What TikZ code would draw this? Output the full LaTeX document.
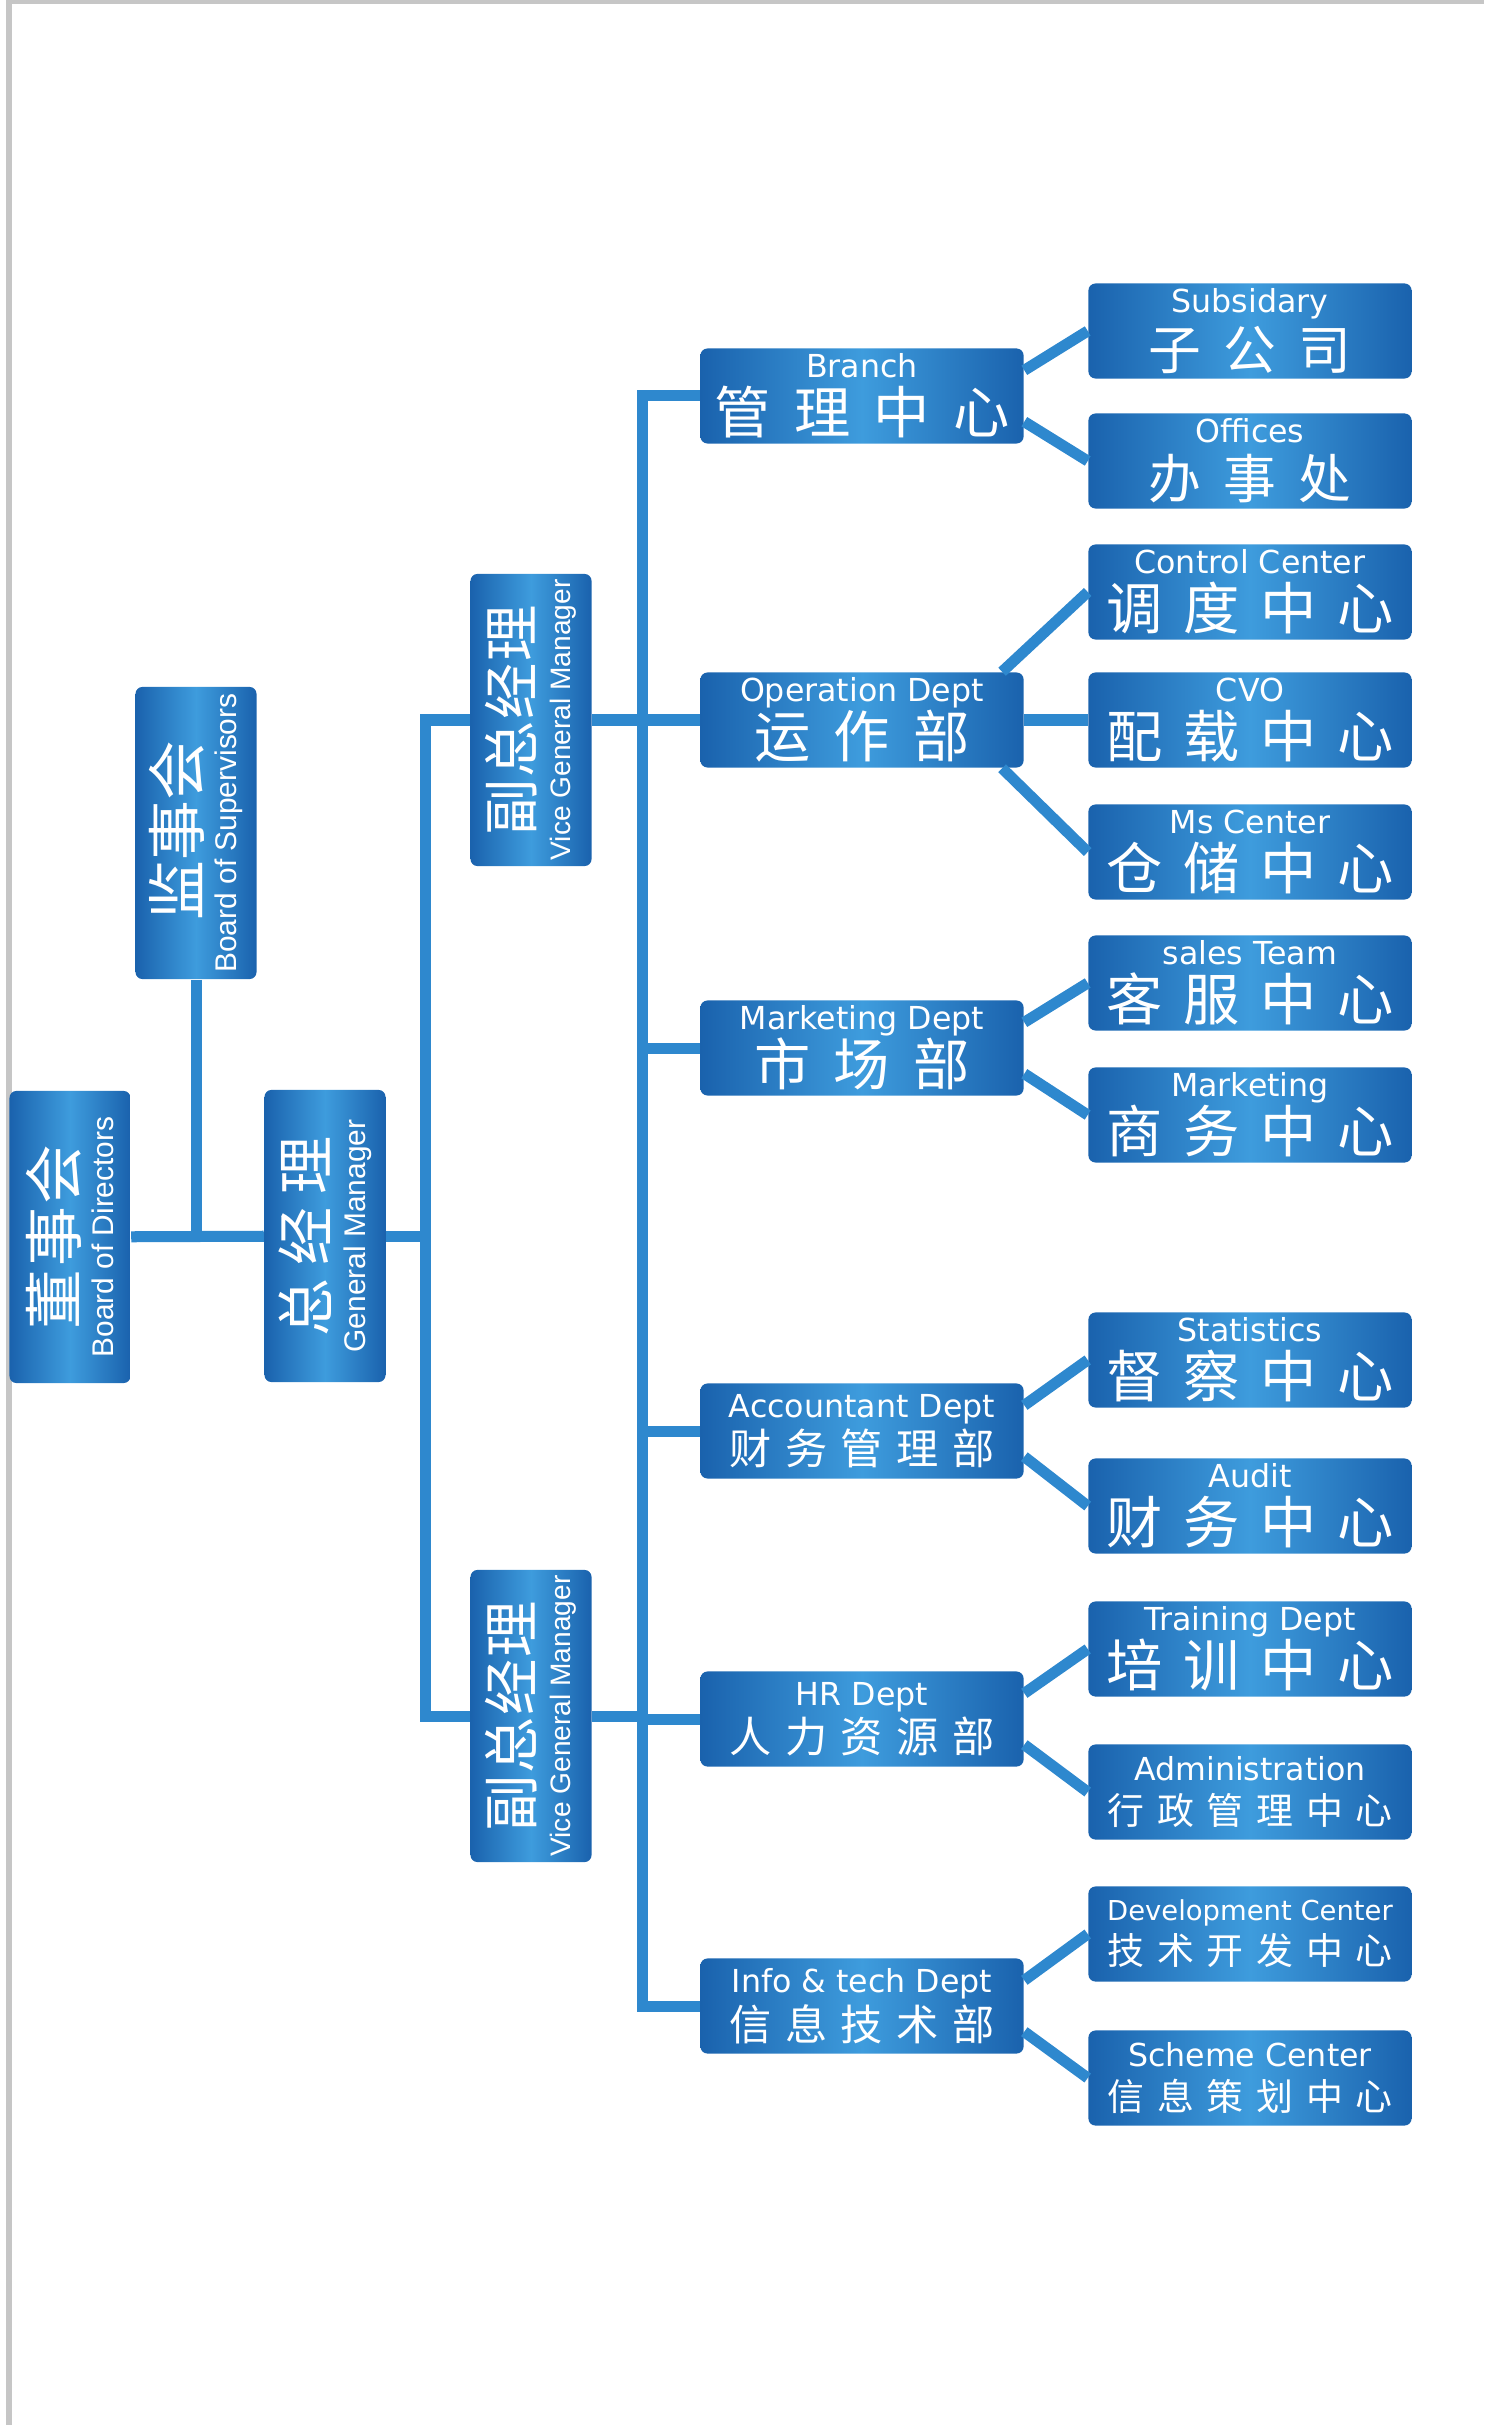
\documentclass[tikz,border=0pt]{standalone}
\usepackage{fontspec}
\setmainfont{Liberation Sans}
\newfontfamily\dvs{DejaVu Sans}
\newfontfamily\cjk{Noto Sans CJK SC}

\definecolor{boxdark}{HTML}{1A62AD}
\definecolor{boxlight}{HTML}{3E9CDD}
\definecolor{linkblue}{HTML}{2E88CE}
\definecolor{framegray}{HTML}{C6C6C6}

% chinese line, spread over a given width
\newcommand{\zh}[3]{{\cjk\fontsize{#1}{#1}\selectfont\makebox[#2][s]{#3}}}

\tikzset{
  unit/.style={rectangle, rounded corners=2pt, inner sep=0pt, text=white, align=center,
    left color=boxdark, right color=boxdark, middle color=boxlight},
  dept/.style={unit, minimum width=3.23cm, minimum height=0.95cm, font=\dvs\fontsize{9}{16}\selectfont},
  head/.style={unit, rotate=90, minimum width=2.92cm, minimum height=1.21cm, font=\fontsize{8.5}{10.7}\selectfont},
  link/.style={draw=linkblue, line width=0.11cm},
}

\begin{document}
\begin{tikzpicture}[x=0.01cm, y=-0.01cm]
  \useasboundingbox (0,0) rectangle (1484,2425);
  \draw[framegray, line width=0.05cm] (9,2425) -- (9,2) -- (1484,2);

  % Top level, turned on its side
  \node[head] (bod) at (70,1237) {\zh{17}{1.85cm}{董\hfill 事\hfill 会}\\Board of Directors};
  \node[head] (sup) at (196,833) {\zh{17}{1.75cm}{监\hfill 事\hfill 会}\\Board of Supervisors};
  \node[head] (gm) at (325,1236) {\zh{16.5}{2.0cm}{总\hfill 经\hfill 理}\\General Manager};
  \node[head, font=\fontsize{8}{10.7}\selectfont] (vgmA) at (531,720) {\zh{16}{2.3cm}{副\hfill 总\hfill 经\hfill 理}\\Vice General Manager};
  \node[head, font=\fontsize{8}{10.7}\selectfont] (vgmB) at (531,1716) {\zh{16}{2.3cm}{副\hfill 总\hfill 经\hfill 理}\\Vice General Manager};

  % Departments
  \node[dept] (bra) at (862,396) {Branch\\\zh{16}{2.95cm}{管\hfill 理\hfill 中\hfill 心}};
  \node[dept] (op) at (862,720) {Operation Dept\\\zh{16}{2.15cm}{运\hfill 作\hfill 部}};
  \node[dept] (mkt) at (862,1048) {Marketing Dept\\\zh{16}{2.15cm}{市\hfill 场\hfill 部}};
  \node[dept, font=\dvs\fontsize{9}{13.5}\selectfont] (acc) at (862,1431) {Accountant Dept\\\zh{12}{2.65cm}{财\hfill 务\hfill 管\hfill 理\hfill 部}};
  \node[dept, font=\dvs\fontsize{9}{13.5}\selectfont] (hr) at (862,1719) {HR Dept\\\zh{12}{2.65cm}{人\hfill 力\hfill 资\hfill 源\hfill 部}};
  \node[dept, font=\dvs\fontsize{9}{13.5}\selectfont] (inf) at (862,2006) {Info \& tech Dept\\\zh{12}{2.65cm}{信\hfill 息\hfill 技\hfill 术\hfill 部}};

  % Centres and offices
  \node[dept] (subs) at (1250,331) {Subsidary\\\zh{15}{2.03cm}{子\hfill 公\hfill 司}};
  \node[dept] (offc) at (1250,461) {Offices\\\zh{15}{2.03cm}{办\hfill 事\hfill 处}};
  \node[dept] (ctrl) at (1250,592) {Control Center\\\zh{16}{2.87cm}{调\hfill 度\hfill 中\hfill 心}};
  \node[dept] (cvo) at (1250,720) {CVO\\\zh{16}{2.87cm}{配\hfill 载\hfill 中\hfill 心}};
  \node[dept] (stor) at (1250,852) {Ms Center\\\zh{16}{2.87cm}{仓\hfill 储\hfill 中\hfill 心}};
  \node[dept] (sale) at (1250,983) {sales Team\\\zh{16}{2.87cm}{客\hfill 服\hfill 中\hfill 心}};
  \node[dept] (mktc) at (1250,1115) {Marketing\\\zh{16}{2.87cm}{商\hfill 务\hfill 中\hfill 心}};
  \node[dept] (stat) at (1250,1360) {Statistics\\\zh{16}{2.87cm}{督\hfill 察\hfill 中\hfill 心}};
  \node[dept] (audt) at (1250,1506) {Audit\\\zh{16}{2.87cm}{财\hfill 务\hfill 中\hfill 心}};
  \node[dept] (trng) at (1250,1649) {Training Dept\\\zh{16}{2.87cm}{培\hfill 训\hfill 中\hfill 心}};
  \node[dept, font=\dvs\fontsize{9}{12.5}\selectfont] (admn) at (1250,1792) {Administration\\\zh{10.5}{2.85cm}{行\hfill 政\hfill 管\hfill 理\hfill 中\hfill 心}};
  \node[dept, font=\dvs\fontsize{7.8}{12.5}\selectfont] (devc) at (1250,1934) {Development Center\\\zh{10.5}{2.85cm}{技\hfill 术\hfill 开\hfill 发\hfill 中\hfill 心}};
  \node[dept, font=\dvs\fontsize{9}{12.5}\selectfont] (schm) at (1250,2078) {Scheme Center\\\zh{10.5}{2.85cm}{信\hfill 息\hfill 策\hfill 划\hfill 中\hfill 心}};

  % Trunk lines
  \coordinate (gmj) at (425,1236);
  \coordinate (djt) at (642,396);
  \coordinate (djb) at (642,2006);
  \draw[link] (bod) -- (gm);
  \draw[link] (sup) -- (sup |- bod);
  \draw[link] (gm) -- (gmj);
  \draw[link] (gmj) |- (vgmA);
  \draw[link] (gmj) |- (vgmB);
  \draw[link] (vgmA) -- (op);
  \draw[link] (vgmB) -- (vgmB -| djt);
  \draw[link] (bra) -- (djt) -- (djb) -- (inf);
  \draw[link] (mkt) -- (mkt -| djt);
  \draw[link] (acc) -- (acc -| djt);
  \draw[link] (hr) -- (hr -| djt);

  % Branches to the centres
  \draw[link] (bra.9) -- (subs.west);
  \draw[link] (bra.-9) -- (offc.west);
  \draw[link] (op.19) -- (ctrl.west);
  \draw[link] (op) -- (cvo);
  \draw[link] (op.-19) -- (stor.west);
  \draw[link] (mkt.9) -- (sale.west);
  \draw[link] (mkt.-9) -- (mktc.west);
  \draw[link] (acc.9) -- (stat.west);
  \draw[link] (acc.-9) -- (audt.west);
  \draw[link] (hr.9) -- (trng.west);
  \draw[link] (hr.-9) -- (admn.west);
  \draw[link] (inf.9) -- (devc.west);
  \draw[link] (inf.-9) -- (schm.west);
\end{tikzpicture}
\end{document}
